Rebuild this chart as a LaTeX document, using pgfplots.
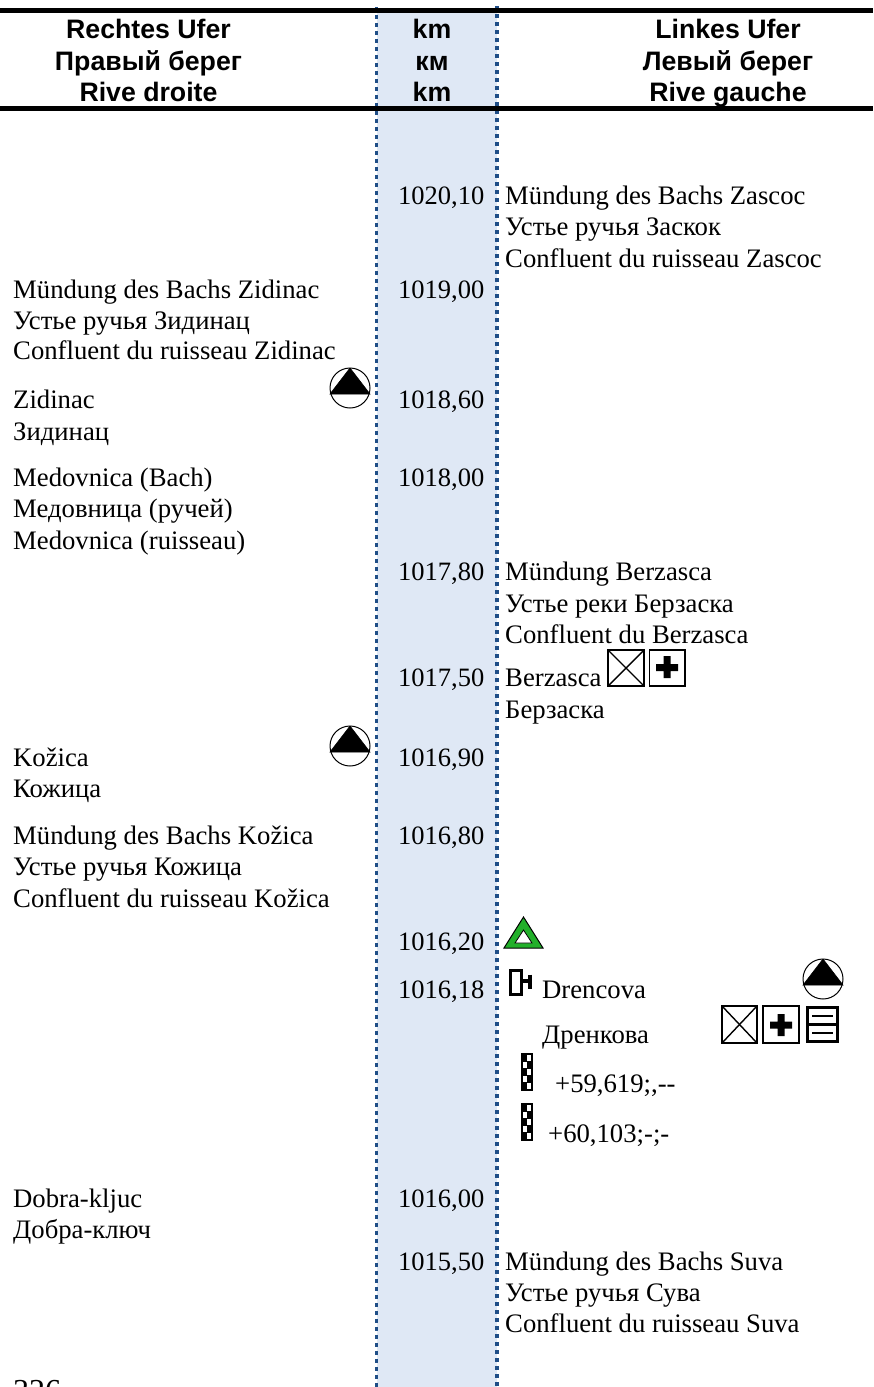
\documentclass[border=0pt]{standalone}
\usepackage{pgfplots}
\usepackage{pgfplotstable}
\usepackage{fontspec}
\pgfplotsset{compat=1.18}
\newfontfamily\tr{Liberation Serif}
\newfontfamily\ar{Liberation Sans}[BoldFont={Liberation Sans Bold}]
\definecolor{band}{HTML}{DFE8F5}
\definecolor{dots}{HTML}{1F4E87}
\definecolor{grn}{HTML}{22B02A}
\protected\def\semi{\char59\relax}
\newcommand\bodyfont{\fontsize{26.7}{30}\selectfont\tr}
\newcommand\headfont{\fontsize{26.7}{30}\selectfont\ar\bfseries}
\newcommand\rectplot[5]{\addplot[#5] coordinates {(#1,#2)(#3,#2)(#3,#4)(#1,#4)} --cycle;}
\pgfdeclareplotmark{circtri}{%
  \pgfsetlinewidth{1pt}\pgfsetstrokecolor{black}\pgfsetfillcolor{white}%
  \pgfpathcircle{\pgfpointorigin}{20pt}\pgfusepathqfillstroke
  \pgfsetfillcolor{black}\pgfsetlinewidth{0.6pt}%
  \pgfpathmoveto{\pgfpoint{0pt}{20pt}}%
  \pgfpathlineto{\pgfpoint{20pt}{-6pt}}%
  \pgfpathlineto{\pgfpoint{-20pt}{-6pt}}%
  \pgfpathclose\pgfusepathqfillstroke}
\pgfplotstableread[col sep=colon]{
x:y:label
398:204:1020,10
398:298:1019,00
398:408:1018,60
398:486:1018,00
398:580:1017,80
398:686:1017,50
398:766:1016,90
398:844:1016,80
398:950:1016,20
398:998:1016,18
398:1207:1016,00
398:1270:1015,50
}\kmtable
\pgfplotstableread[col sep=colon]{
x:y:label
13:298:Mündung des Bachs Zidinac
13:329:Устье ручья Зидинац
13:359:Confluent du ruisseau Zidinac
13:408:Zidinac
13:440:Зидинац
13:486:Medovnica (Bach)
13:517:Медовница (ручей)
13:549:Medovnica (ruisseau)
13:766:Kožica
13:797:Кожица
13:844:Mündung des Bachs Kožica
13:875:Устье ручья Кожица
13:907:Confluent du ruisseau Kožica
13:1207:Dobra-kljuc
13:1238:Добра-ключ
505:204:Mündung des Bachs Zascoc
505:235:Устье ручья Заскок
505:267:Confluent du ruisseau Zascoc
505:580:Mündung Berzasca
505:612:Устье реки Берзаска
505:643:Confluent du Berzasca
505:686:Berzasca
505:718:Берзаска
542:998:Drencova
542:1043:Дренкова
555:1092:+59,619\semi,--
548:1142:+60,103\semi-\semi-
505:1270:Mündung des Bachs Suva
505:1301:Устье ручья Сува
505:1332:Confluent du ruisseau Suva
}\texttable
\pgfplotstableread[col sep=colon]{
x:y:label
148.5:38:Rechtes Ufer
148.5:70:Правый берег
148.5:101:Rive droite
432:38:km
432:70:км
432:101:km
728:38:Linkes Ufer
728:70:Левый берег
728:101:Rive gauche
}\headtable
\pgfplotstableread[col sep=colon]{
x:y:label
13:1401:326
}\pagetable
\begin{document}
\begin{tikzpicture}
\path[use as bounding box, clip] (0,0) rectangle (873pt,1387pt);
\begin{axis}[
  at={(0,0)}, anchor=south west,
  scale only axis, width=873pt, height=1387pt,
  xmin=0, xmax=873, ymin=0, ymax=1387, y dir=reverse,
  hide axis, clip=false,
  cycle list={{black}},
  every axis plot/.append style={line join=miter},
]
% band, rules and dotted borders
\rectplot{377}{9}{497}{1387}{fill=band,draw=none}
\addplot[dots,line width=3.5pt,dash pattern=on 3.5pt off 4.5pt] coordinates {(376.6,7)(376.6,1387)};
\addplot[dots,line width=3.5pt,dash pattern=on 3.5pt off 4.5pt] coordinates {(497,6)(497,1387)};
\addplot[black,line width=5pt] coordinates {(0,10.5)(873,10.5)};
\addplot[black,line width=4.5pt] coordinates {(0,108.3)(873,108.3)};
% circled triangles
\addplot[only marks,mark=circtri] coordinates {(350,388)(350,746)(823,979)};
% boxes at Berzasca
\rectplot{608}{650}{644}{686}{fill=white,draw=black,line width=1.8pt}
\addplot[black,line width=1.4pt] coordinates {(608,650)(644,686)};
\addplot[black,line width=1.4pt] coordinates {(644,650)(608,686)};
\rectplot{649.5}{650}{685}{686}{fill=white,draw=black,line width=1.4pt}
\addplot[fill=black,draw=none] coordinates {(663.5,656)(670.5,656)(670.5,664)(678,664)(678,671)(670.5,671)(670.5,678)(663.5,678)(663.5,671)(656,671)(656,664)(663.5,664)} --cycle;
% boxes at Drencova
\rectplot{722}{1006}{757}{1043}{fill=white,draw=black,line width=1.8pt}
\addplot[black,line width=1.4pt] coordinates {(722,1006)(757,1043)};
\addplot[black,line width=1.4pt] coordinates {(757,1006)(722,1043)};
\rectplot{763}{1006}{799}{1043}{fill=white,draw=black,line width=1.4pt}
\addplot[fill=black,draw=none] coordinates {(777.5,1014)(784.5,1014)(784.5,1021.5)(792,1021.5)(792,1028.5)(784.5,1028.5)(784.5,1036)(777.5,1036)(777.5,1028.5)(770,1028.5)(770,1021.5)(777.5,1021.5)} --cycle;
\rectplot{807.5}{1007.5}{837.5}{1041.5}{fill=white,draw=black,line width=3pt}
\addplot[black,line width=3pt] coordinates {(807,1024.5)(838,1024.5)};
\addplot[black,line width=2pt] coordinates {(812,1016)(833,1016)};
\addplot[black,line width=2pt] coordinates {(812,1032.5)(833,1032.5)};
% green triangle
\addplot[fill=grn,draw=black,line width=1pt] coordinates {(523.5,917)(543,948)(504,948)} --cycle;
\addplot[fill=white,draw=black,line width=0.8pt] coordinates {(523.5,930)(532,943)(515,943)} --cycle;
% key-like icon
\rectplot{510.7}{970.7}{521.7}{994.8}{fill=white,draw=black,line width=3.3pt}
\addplot[black,line width=3.4pt] coordinates {(523,981)(531,981)};
\addplot[black,line width=3.4pt] coordinates {(530,974.5)(530,989)};
% chequered icons
\rectplot{521}{1053}{533}{1091}{fill=black,draw=none}
\rectplot{521}{1103}{533}{1141}{fill=black,draw=none}
\rectplot{527}{1055}{531}{1061}{fill=white,draw=none}
\rectplot{523}{1062}{527}{1068}{fill=white,draw=none}
\rectplot{527}{1069}{531}{1075}{fill=white,draw=none}
\rectplot{523}{1076}{527}{1082}{fill=white,draw=none}
\rectplot{527}{1083}{531}{1089}{fill=white,draw=none}
\rectplot{527}{1105}{531}{1111}{fill=white,draw=none}
\rectplot{523}{1112}{527}{1118}{fill=white,draw=none}
\rectplot{527}{1119}{531}{1125}{fill=white,draw=none}
\rectplot{523}{1126}{527}{1132}{fill=white,draw=none}
\rectplot{527}{1133}{531}{1139}{fill=white,draw=none}
% text
\addplot[draw=none,mark=none,nodes near coords,point meta=explicit symbolic,
  nodes near coords align={anchor=base west},
  every node near coord/.append style={font=\fontsize{26.5}{30}\selectfont\tr,anchor=base west,inner sep=0pt,text=black}]
  table[x=x,y=y,meta=label] {\kmtable};
\addplot[draw=none,mark=none,nodes near coords,point meta=explicit symbolic,
  nodes near coords align={anchor=base west},
  every node near coord/.append style={font=\bodyfont,anchor=base west,inner sep=0pt,text=black}]
  table[x=x,y=y,meta=label] {\texttable};
\addplot[draw=none,mark=none,nodes near coords,point meta=explicit symbolic,
  nodes near coords align={anchor=base},
  every node near coord/.append style={font=\headfont,anchor=base,inner sep=0pt,text=black}]
  table[x=x,y=y,meta=label] {\headtable};
\addplot[draw=none,mark=none,nodes near coords,point meta=explicit symbolic,
  nodes near coords align={anchor=base west},
  every node near coord/.append style={font=\fontsize{32}{36}\selectfont\tr,anchor=base west,inner sep=0pt,text=black}]
  table[x=x,y=y,meta=label] {\pagetable};
\end{axis}
\end{tikzpicture}
\end{document}
